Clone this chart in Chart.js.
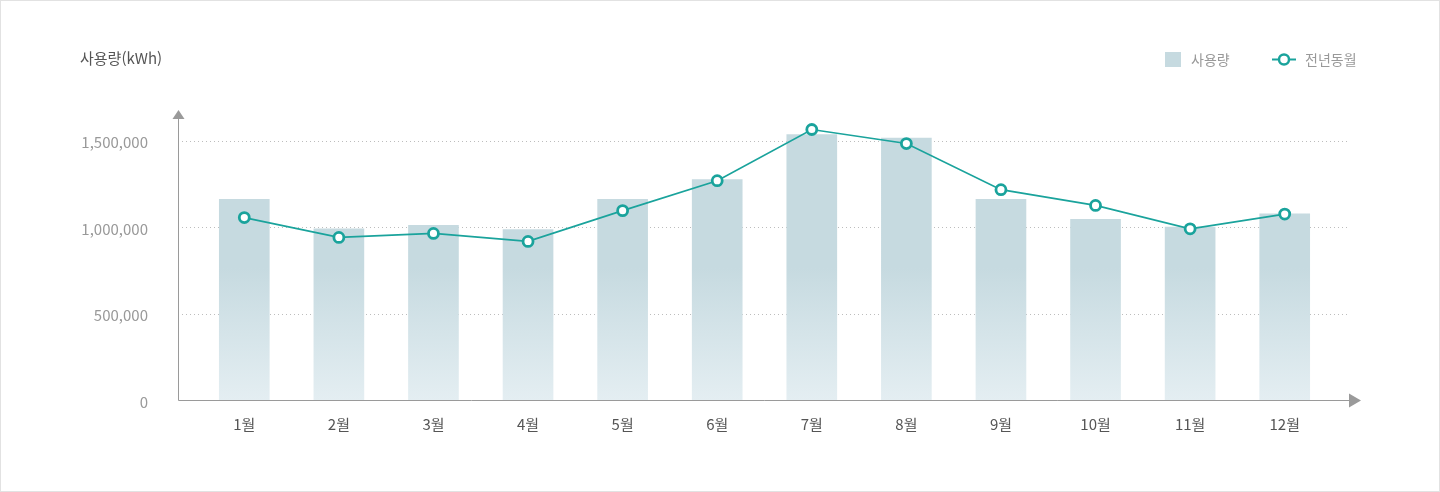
<!DOCTYPE html>
<html lang="ko">
<head>
<meta charset="utf-8">
<script src="https://cdn.jsdelivr.net/npm/chart.js@4"></script>
<style>
  html, body { margin: 0; padding: 0; background: #fff; }
  #wrap { width: 1440px; height: 492px; position: relative; }
  canvas { display: block; }
</style>
</head>
<body>
<div id="wrap"><canvas id="c" width="1440" height="492"></canvas></div>
<script>
const categories = ['1월','2월','3월','4월','5월','6월','7월','8월','9월','10월','11월','12월'];
const usageValues = [1160000, 990000, 1010000, 985000, 1160000, 1275000, 1535000, 1515000, 1160000, 1045000, 1000000, 1077000];
const lastYearValues = [1055000, 940000, 963000, 917000, 1095000, 1268000, 1564000, 1483000, 1216000, 1125000, 990000, 1075000];
const yTickValues = [0, 500000, 1000000, 1500000];
const seriesNames = ['사용량', '전년동월'];
const yAxisTitle = '사용량(kWh)';

const FONT = "'Noto Sans CJK KR', 'Noto Sans', sans-serif";
const TEAL = '#1aa39c';
const BAR_TOP = '#c6dae0';
const BAR_BOTTOM = '#e4eef2';

function barGradient(ctx) {
  const chart = ctx.chart;
  const area = chart.chartArea;
  if (!area) return BAR_TOP;
  const y0 = chart.scales.y.getPixelForValue(0);
  const g = chart.ctx.createLinearGradient(0, area.top, 0, y0);
  g.addColorStop(0, BAR_TOP);
  g.addColorStop(0.55, BAR_TOP);
  g.addColorStop(1, BAR_BOTTOM);
  return g;
}

const decorPlugin = {
  id: 'decor',
  beforeDraw(chart) {
    const c = chart.ctx;
    c.save();
    c.fillStyle = '#fff';
    c.fillRect(0, 0, chart.width, chart.height);
    c.restore();
  },
  beforeDatasetsDraw(chart) {
    const c = chart.ctx;
    const y = chart.scales.y;
    c.save();
    c.strokeStyle = '#bdbdbd';
    c.lineWidth = 1;
    c.setLineDash([1, 3]);
    yTickValues.forEach(v => {
      if (v === 0) return;
      const py = Math.round(y.getPixelForValue(v)) + 0.5;
      c.beginPath();
      c.moveTo(182, py);
      c.lineTo(1350, py);
      c.stroke();
    });
    c.restore();
  },
  afterDatasetsDraw(chart) {
    const c = chart.ctx;
    const yS = chart.scales.y;
    const y0 = Math.round(yS.getPixelForValue(0)) + 0.5;
    const ax = 178.5;
    c.save();
    c.strokeStyle = '#9a9a9a';
    c.fillStyle = '#9a9a9a';
    c.lineWidth = 1;
    c.beginPath();
    c.moveTo(ax, 118);
    c.lineTo(ax, y0);
    c.lineTo(1350, y0);
    c.stroke();
    c.beginPath();
    c.moveTo(ax, 110);
    c.lineTo(ax - 6, 119);
    c.lineTo(ax + 6, 119);
    c.closePath();
    c.fill();
    c.beginPath();
    c.moveTo(1361, y0);
    c.lineTo(1349, y0 - 7);
    c.lineTo(1349, y0 + 7);
    c.closePath();
    c.fill();
    c.restore();
  },
  afterDraw(chart) {
    const c = chart.ctx;
    c.save();
    c.font = '15px ' + FONT;
    c.fillStyle = '#555';
    c.textBaseline = 'middle';
    c.textAlign = 'left';
    c.fillText(yAxisTitle, 80, 58);
    c.fillStyle = BAR_TOP;
    c.fillRect(1165, 52, 16, 15);
    c.font = '14px ' + FONT;
    c.fillStyle = '#999';
    c.fillText(seriesNames[0], 1191, 59.5);
    c.strokeStyle = TEAL;
    c.lineWidth = 2;
    c.beginPath();
    c.moveTo(1272, 59.5);
    c.lineTo(1296, 59.5);
    c.stroke();
    c.beginPath();
    c.arc(1284, 59.5, 5, 0, Math.PI * 2);
    c.fillStyle = '#fff';
    c.fill();
    c.lineWidth = 2.5;
    c.stroke();
    c.fillStyle = '#999';
    c.fillText(seriesNames[1], 1305, 59.5);
    c.strokeStyle = '#e2e2e2';
    c.lineWidth = 1;
    c.strokeRect(0.5, 0.5, chart.width - 1, chart.height - 1);
    c.restore();
  }
};

new Chart(document.getElementById('c'), {
  data: {
    labels: categories,
    datasets: [
      {
        type: 'line',
        label: seriesNames[1],
        data: lastYearValues,
        borderColor: TEAL,
        borderWidth: 1.7,
        pointRadius: 5,
        pointBorderWidth: 2.8,
        pointBackgroundColor: '#fff',
        pointBorderColor: TEAL,
        tension: 0,
        order: 0
      },
      {
        type: 'bar',
        label: seriesNames[0],
        data: usageValues,
        backgroundColor: barGradient,
        barThickness: 50,
        borderWidth: 0,
        order: 1
      }
    ]
  },
  options: {
    responsive: false,
    animation: false,
    devicePixelRatio: 1,
    layout: { padding: { top: 106, right: 108, left: 0, bottom: 0 } },
    plugins: {
      legend: { display: false },
      title: { display: false },
      tooltip: { enabled: false }
    },
    scales: {
      x: {
        type: 'category',
        grid: { display: false, drawTicks: false },
        border: { display: false },
        ticks: { color: '#555', font: { family: FONT, size: 15 }, padding: 15, maxRotation: 0 },
        afterFit(scale) { scale.height = 92; }
      },
      y: {
        type: 'linear',
        min: 0,
        max: 1700000,
        grid: { display: false, drawTicks: false },
        border: { display: false },
        afterBuildTicks(scale) { scale.ticks = yTickValues.map(v => ({ value: v })); },
        ticks: {
          color: '#999',
          font: { family: FONT, size: 15 },
          padding: 49,
          labelOffset: 2,
          callback: v => Number(v).toLocaleString('en-US')
        },
        afterFit(scale) { scale.width = 197; }
      }
    }
  },
  plugins: [decorPlugin]
});
</script>
</body>
</html>
